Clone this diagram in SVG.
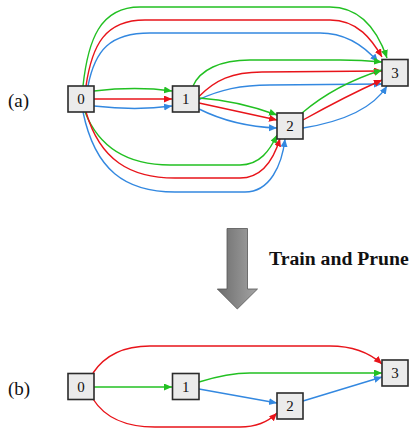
<svg xmlns="http://www.w3.org/2000/svg" width="413" height="428" viewBox="0 0 413 428">
<defs>
<style>
.n rect{fill:#ebebeb;stroke:#2b2b2b;stroke-width:1.6}
.n text{font-family:"Liberation Serif",serif;font-size:15px;fill:#111;text-anchor:middle}
.e path{fill:none;stroke-width:1.4}
.g{stroke:#22c022}
.r{stroke:#e8141a}
.b{stroke:#3388e0}
.lab{font-family:"Liberation Serif",serif;font-size:19px;fill:#111}
</style>
<marker id="ag" markerUnits="userSpaceOnUse" markerWidth="9" markerHeight="8" refX="8" refY="3.5" orient="auto"><path d="M0,0 L8,3.5 L0,7 z" fill="#22c022"/></marker>
<marker id="ar" markerUnits="userSpaceOnUse" markerWidth="9" markerHeight="8" refX="8" refY="3.5" orient="auto"><path d="M0,0 L8,3.5 L0,7 z" fill="#e8141a"/></marker>
<marker id="ab" markerUnits="userSpaceOnUse" markerWidth="9" markerHeight="8" refX="8" refY="3.5" orient="auto"><path d="M0,0 L8,3.5 L0,7 z" fill="#3388e0"/></marker>
<linearGradient id="gr" x1="0" y1="0" x2="1" y2="0">
<stop offset="0" stop-color="#6c6c6c"/><stop offset="1" stop-color="#a4a4a4"/>
</linearGradient>
</defs>

<text class="lab" x="8" y="107">(a)</text>
<text class="lab" x="8" y="395">(b)</text>

<g id="connectors" class="e">
<!-- (a) 0->3 -->
<path class="g" marker-end="url(#ag)" d="M83,86 C88,40 100,7 140,7 L330,7 C362,7 378,32 387,58"/>
<path class="r" marker-end="url(#ar)" d="M86,86 C92,45 105,20 145,20 L330,20 C358,20 372,40 382,57"/>
<path class="b" marker-end="url(#ab)" d="M88,86 C95,50 110,33 150,33 L320,33 C348,33 366,48 378,62"/>
<!-- (a) 0->1 -->
<path class="g" marker-end="url(#ag)" d="M94,91 C120,88 150,88 172,91"/>
<path class="r" marker-end="url(#ar)" d="M94,99 L172,99"/>
<path class="b" marker-end="url(#ab)" d="M94,106 C120,109 150,109 172,106"/>
<!-- (a) 1->3 -->
<path class="g" marker-end="url(#ag)" d="M193,86 C200,70 220,60 250,60 L340,60 C360,60 372,61 382,62"/>
<path class="r" marker-end="url(#ar)" d="M199,96.5 C215,80 232,72 262,72 L382,71"/>
<path class="b" marker-end="url(#ab)" d="M199,99.5 C220,90 240,85 270,85 L382,84"/>
<!-- (a) 1->2 -->
<path class="g" marker-end="url(#ag)" d="M199,98 C230,100 255,107 277,115"/>
<path class="r" marker-end="url(#ar)" d="M199,103 C230,110 255,115 277,120"/>
<path class="b" marker-end="url(#ab)" d="M199,109 C225,122 250,127 277,128"/>
<!-- (a) 2->3 -->
<path class="g" marker-end="url(#ag)" d="M302,113 C322,96 350,80 382,70"/>
<path class="r" marker-end="url(#ar)" d="M303,120 C330,105 355,92 382,80"/>
<path class="b" marker-end="url(#ab)" d="M303,128 C340,122 372,110 387,86"/>
<!-- (a) 0->2 -->
<path class="g" marker-end="url(#ag)" d="M85,112 C100,150 130,165 170,165 L240,165 C260,165 270,150 277,135"/>
<path class="r" marker-end="url(#ar)" d="M86,112 C100,160 130,178 175,178 L240,178 C265,178 275,155 280,138.5"/>
<path class="b" marker-end="url(#ab)" d="M83,112 C95,170 125,192 175,192 L245,192 C270,192 282,165 285,139"/>

<!-- (b) -->
<path class="r" marker-end="url(#ar)" d="M93,373 C105,355 125,346 150,346 L330,346 C355,346 372,355 382,364"/>
<path class="g" marker-end="url(#ag)" d="M94,387 L172,387"/>
<path class="r" marker-end="url(#ar)" d="M93,399 C105,418 125,427 155,427 L240,427 C258,427 270,420 277,413"/>
<path class="g" marker-end="url(#ag)" d="M199,382 C215,377 230,373 250,373 L382,373"/>
<path class="b" marker-end="url(#ab)" d="M199,389 L277,403"/>
<path class="b" marker-end="url(#ab)" d="M303,401 L382,377"/>
</g>

<g id="a0" class="n"><rect x="68" y="86" width="26" height="26"/><text x="81" y="104">0</text></g>
<g id="a1" class="n"><rect x="172.5" y="86" width="26.5" height="26"/><text x="185.7" y="104">1</text></g>
<g id="a2" class="n"><rect x="277" y="113" width="26" height="26"/><text x="290" y="131">2</text></g>
<g id="a3" class="n"><rect x="382" y="59.5" width="26" height="26.5"/><text x="395" y="78">3</text></g>

<g id="bigarrow">
<path d="M227,228.5 L247.5,228.5 L247.5,289 L257.5,289 L237.3,309 L217.3,289 L227,289 Z" fill="url(#gr)" stroke="#555" stroke-width="0.8"/>
</g>
<text x="269" y="265" font-family="Liberation Serif,serif" font-weight="bold" font-size="19.7" fill="#111">Train and Prune</text>

<g id="b0" class="n"><rect x="68" y="373.5" width="26" height="26"/><text x="81" y="391.5">0</text></g>
<g id="b1" class="n"><rect x="172.5" y="373.5" width="26.5" height="26"/><text x="185.7" y="391.5">1</text></g>
<g id="b2" class="n"><rect x="277" y="393" width="26" height="26"/><text x="290" y="411">2</text></g>
<g id="b3" class="n"><rect x="382" y="360" width="26" height="26"/><text x="395" y="378">3</text></g>
</svg>
